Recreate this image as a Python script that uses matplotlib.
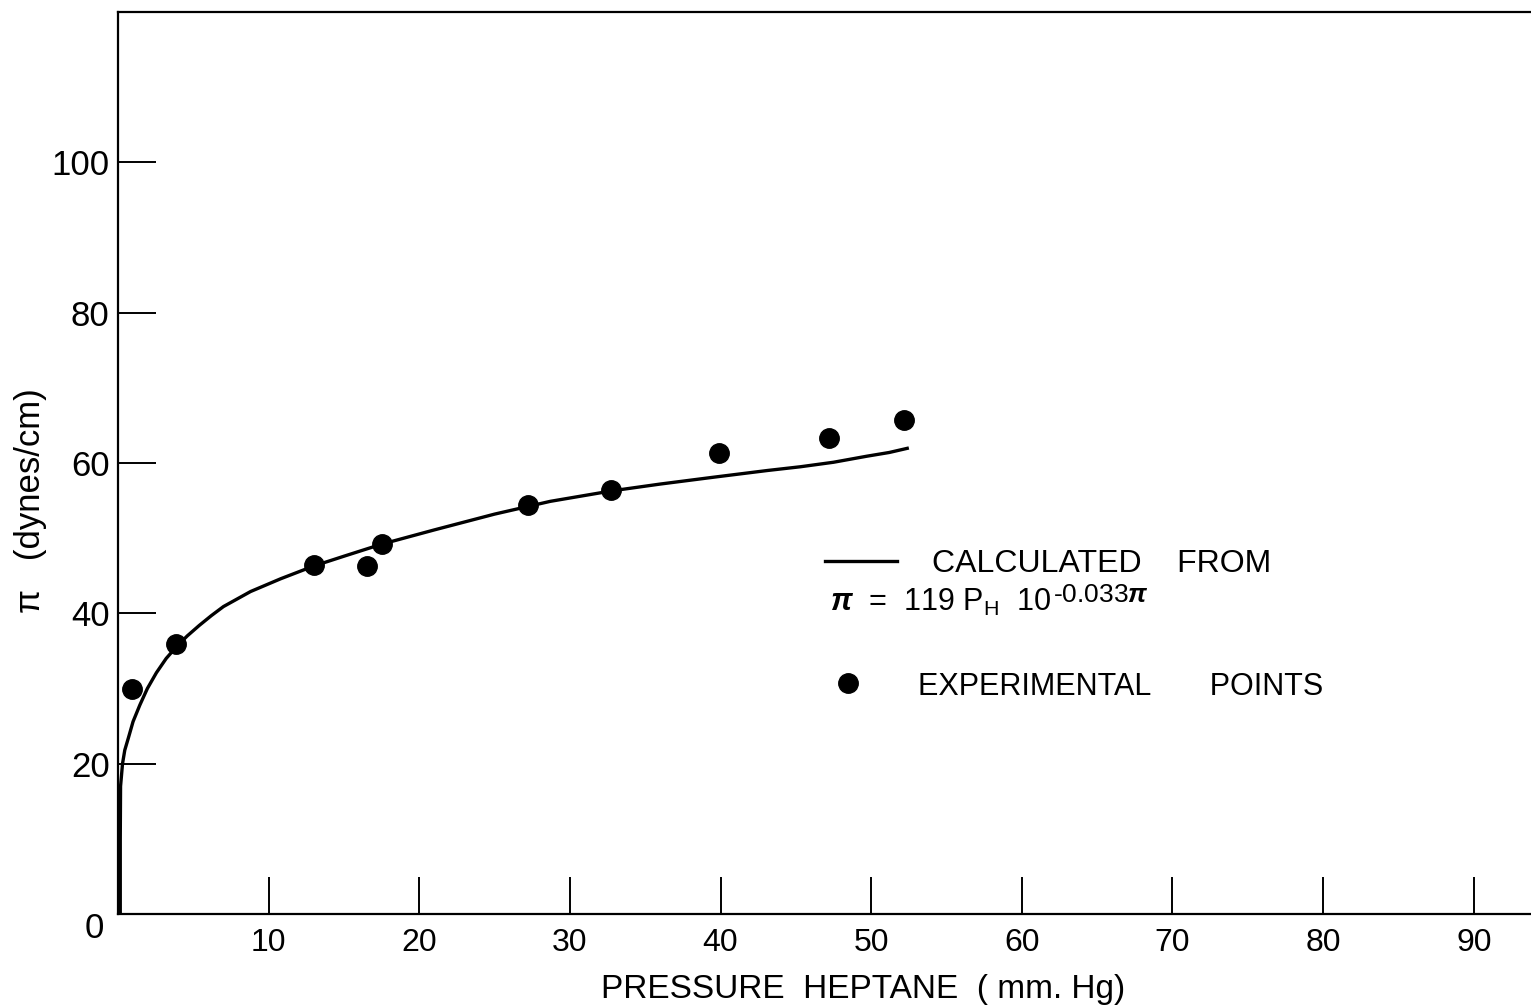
import matplotlib.pyplot as plt
from matplotlib.lines import Line2D

# experimental points (pressure in mm Hg, pi in dynes/cm)
pressure_exp = [0.93, 3.85, 13.0, 16.5, 17.5, 27.2, 32.7, 39.9, 47.2, 52.2]
pi_exp = [29.9, 35.9, 46.4, 46.3, 49.2, 54.4, 56.4, 61.3, 63.3, 65.7]

# calculated curve
pressure_calc = [0.15, 0.15, 0.17, 0.3, 0.45, 0.7, 1.0, 1.45, 1.95, 2.55, 3.2, 3.9,
                 4.6, 5.4, 6.2, 7.0, 8.8, 10.8, 13.0, 15.0, 17.5, 21.0, 25.0,
                 28.7, 32.8, 36.0, 39.5, 43.1, 45.3, 47.5, 49.7, 51.2, 52.5]
pi_calc = [0.0, 10.0, 17.0, 20.0, 21.8, 23.5, 25.6, 27.8, 30.0, 32.1, 34.0, 35.6,
           37.0, 38.4, 39.7, 40.9, 42.9, 44.6, 46.3, 47.6, 49.2, 51.1, 53.2,
           54.9, 56.3, 57.2, 58.1, 59.0, 59.5, 60.1, 60.9, 61.4, 62.0]

x_ticks = [10, 20, 30, 40, 50, 60, 70, 80, 90]
y_ticks = [20, 40, 60, 80, 100]

plt.rcParams['font.family'] = ['Liberation Sans', 'DejaVu Sans']
plt.rcParams['mathtext.fontset'] = 'custom'
plt.rcParams['mathtext.rm'] = 'Liberation Sans'
plt.rcParams['mathtext.it'] = 'Liberation Sans:italic:bold'

fig = plt.figure(figsize=(15.31, 10.07), dpi=100)
ax = fig.add_axes([118 / 1531, 93 / 1007, 1413 / 1531, 902 / 1007])

ax.plot(pressure_calc, pi_calc, color='black', lw=2.4, solid_capstyle='butt',
        solid_joinstyle='round')
ax.plot(pressure_exp, pi_exp, 'o', color='black', markersize=14)

ax.set_xlim(0, 93.8)
ax.set_ylim(0, 120)

ax.spines['right'].set_visible(False)
for s in ['left', 'top', 'bottom']:
    ax.spines[s].set_linewidth(1.6)

ax.set_xticks(x_ticks)
ax.set_yticks(y_ticks)
ax.set_xticklabels([str(v) for v in x_ticks], fontsize=23)
ax.set_yticklabels([str(v) for v in y_ticks], fontsize=25)
ax.tick_params(axis='both', direction='in', length=27, width=1.4)
ax.tick_params(axis='x', pad=10)
ax.tick_params(axis='y', pad=6)

# origin label
ax.text(-1.55, -1.9, '0', fontsize=25, ha='center', va='center', clip_on=False)

ax.set_xlabel('PRESSURE  HEPTANE  ( mm. Hg)', fontsize=24)
ax.xaxis.set_label_coords(0.527, -0.066)
ax.text(-0.062, 0.458, 'π   (dynes/cm)', fontsize=25, rotation=90,
        ha='center', va='center', transform=ax.transAxes)

# hand-drawn style legend
ax.add_line(Line2D([0.5004, 0.5513], [0.3914, 0.3914], color='black', lw=2.4,
                   transform=ax.transAxes))
ax.text(0.576, 0.388, 'CALCULATED    FROM', fontsize=23, va='center',
        transform=ax.transAxes)
base = ax.text(0.504, 0.336, r'$\mathit{\pi}$  =  119 P$_{\rm H}$  10',
               fontsize=22, va='baseline', transform=ax.transAxes)
ax.annotate(r'-0.033$\mathit{\pi}$', xy=(1.0, 0.5), xycoords=base,
            xytext=(1, 0), textcoords='offset points',
            fontsize=19, ha='left', va='baseline')
ax.add_line(Line2D([0.5166], [0.2561], marker='o', color='black', markersize=14,
                   transform=ax.transAxes))
ax.text(0.566, 0.2517, 'EXPERIMENTAL       POINTS', fontsize=22, va='center',
        transform=ax.transAxes)

fig.savefig('out.png', dpi=100)
